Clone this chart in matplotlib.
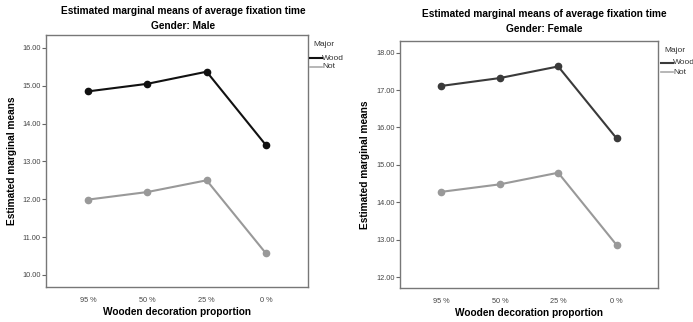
import matplotlib
matplotlib.use("Agg")
import matplotlib.pyplot as plt

plt.rcParams['font.family'] = ['Liberation Sans', 'DejaVu Sans']

categories = ["95 %", "50 %", "25 %", "0 %"]
male_wood = [14.85, 15.05, 15.37, 13.43]
male_not = [11.99, 12.19, 12.50, 10.57]
female_wood = [17.11, 17.32, 17.63, 15.71]
female_not = [14.28, 14.48, 14.79, 12.86]
male_yticks = [10, 11, 12, 13, 14, 15, 16]
female_yticks = [12, 13, 14, 15, 16, 17, 18]

W, H = 693, 322
fig = plt.figure(figsize=(W / 100, H / 100), dpi=100)


def panel(rect, wood, notw, yticks, ylim, wood_col, gender, title_xy, leg_xy, ylab_x, xlab_y):
    ax = fig.add_axes(rect)
    x = range(len(categories))
    ax.plot(x, wood, color=wood_col, lw=1.5, marker='o', ms=4.5)
    ax.plot(x, notw, color='#999999', lw=1.5, marker='o', ms=4.5)
    ax.set_xlim(-0.71, 3.71)
    ax.set_ylim(*ylim)
    ax.set_xticks(list(x))
    ax.set_xticklabels(categories)
    ax.set_yticks(yticks)
    ax.set_yticklabels(["%.2f" % v for v in yticks])
    ax.tick_params(axis='y', length=3, width=0.8, color='#666666', labelsize=5.3,
                   labelcolor='#444444', pad=1)
    ax.tick_params(axis='x', length=0, labelsize=5.3, labelcolor='#444444', pad=7)
    for s in ax.spines.values():
        s.set_color('#777777')
        s.set_linewidth(1.0)
    cx = (rect[0] + rect[2] / 2)
    fig.text(cx, 1 - xlab_y / H, "Wooden decoration proportion", fontsize=7.3,
             fontweight='bold', ha='center', va='center')
    fig.text(ylab_x / W, rect[1] + rect[3] / 2, "Estimated marginal means", rotation=90,
             fontsize=7.3, fontweight='bold', ha='center', va='center')
    tx, ty = title_xy
    fig.text(tx / W, 1 - ty / H, "Estimated marginal means of average fixation time",
             fontsize=7.3, fontweight='bold', ha='center', va='center')
    fig.text(tx / W, 1 - (ty + 15) / H, "Gender: " + gender,
             fontsize=7.3, fontweight='bold', ha='center', va='center')
    lx, ly = leg_xy
    fig.text((lx + 3) / W, 1 - ly / H, "Major", fontsize=6, color='#333333', va='center')
    for i, (lab, col, lw) in enumerate([("Wood", wood_col, 1.5), ("Not", '#aaaaaa', 1.2)]):
        yy = 1 - (ly + 13 + 9 * i) / H
        fig.add_artist(plt.Line2D([lx / W, (lx + 12) / W], [yy, yy], color=col, lw=lw))
        fig.text((lx + 12) / W, yy, lab, fontsize=6, color='#333333', va='center')
    return ax


panel([46 / W, 1 - 287 / H, 262 / W, 252 / H], male_wood, male_not, male_yticks,
      (9.68, 16.34), '#111111', "Male", (183, 11), (310, 45), 12, 312)
panel([400 / W, 1 - 288 / H, 258 / W, 247 / H], female_wood, female_not, female_yticks,
      (11.71, 18.31), '#3a3a3a', "Female", (544, 14), (661, 50), 365, 313)

fig.savefig("out.png", dpi=100)
